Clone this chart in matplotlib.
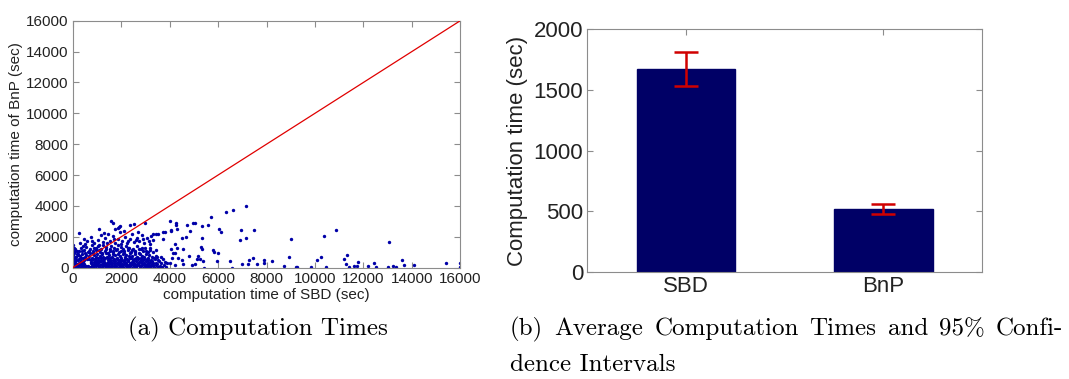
import numpy as np
import matplotlib
matplotlib.use("Agg")
import matplotlib.pyplot as plt

# ---- (a) scatter: computation time SBD vs BnP (sec) ----
# sparse points, outside the dense blob
sparse_pts = [
	(7140, 3997), (6630, 3717), (6340, 3590), (5695, 3265), (4980, 2915), (5050, 2915),
	(4700, 2765), (4015, 3025), (4250, 2875), (4250, 2745), (5585, 2765), (5350, 2720),
	(6025, 2527), (6108, 2293), (6946, 2442), (7482, 2442), (4841, 2397), (4318, 2507),
	(4057, 2440), (4057, 2397), (3810, 2330), (3740, 2290), (3535, 2165), (3326, 2165),
	(3425, 2165), (4676, 2010), (4524, 1945), (5323, 1945), (6905, 1795), (7140, 1903),
	(3740, 1860), (4235, 1535), (4292, 1255), (4045, 1190), (4152, 932), (4222, 932),
	(4565, 1190), (5282, 1320), (5323, 1190), (5778, 1127), (5845, 1036), (5984, 932),
	(4800, 758), (5184, 758), (5130, 564), (5254, 544), (5394, 434), (5943, 434),
	(6492, 434), (7288, 480), (7453, 648), (6975, 220), (7235, 220), (7620, 220),
	(4911, 175), (5047, 220), (5419, 0), (6562, 0), (4524, 499), (4565, 220),
	(4222, 175), (4015, 285), (3810, 389), (3714, 564), (3644, 713), (3467, 713),
	(3508, 499), (3302, 175), (4085, 648), (4358, 609),
	(9010, 1860), (10385, 2034), (10880, 2442), (13040, 1665), (7907, 518), (7907, 285),
	(8225, 453), (8720, 110), (8940, 693), (9203, 45), (9270, 45), (9835, 45),
	(10095, 480), (10260, 674), (10441, 65), (11209, 544), (11308, 803), (11267, 259),
	(11391, 45), (11622, 110), (11746, 91), (11787, 369), (12175, 91), (12448, 324),
	(12517, 65), (13025, 45), (13206, 91), (13343, 65), (13590, 499), (13660, 175),
	(14098, 175), (15394, 285), (16000, 285), (16000, 45),
	(272, 2228), (1580, 3025), (1663, 2876), (1911, 2656), (1965, 2721), (1870, 2591),
	(2365, 2766), (2517, 2831), (2971, 2915), (1085, 2488), (1733, 2488),
]

# dense blob near the origin
blob_pts = [
	(30, 40), (80, 150), (120, 20), (160, 260), (210, 90), (250, 330), (300, 10), (340, 180),
	(390, 60), (420, 390), (470, 240), (520, 30), (560, 120), (700, 50),
	(740, 290), (790, 140), (830, 10), (880, 380), (920, 220), (970, 80), (1010, 310), (1060, 160),
	(1100, 30), (1150, 420), (1190, 250), (1240, 100), (1280, 350), (1330, 190), (1370, 20),
	(1420, 280), (1460, 130), (1510, 400), (1550, 60), (1600, 230), (1640, 330), (1690, 90),
	(1730, 170), (1780, 10), (1820, 300), (1870, 210), (1910, 70), (1960, 380), (2000, 140),
	(2050, 260), (2090, 30), (2140, 340), (2180, 110), (2230, 200), (2270, 420), (2320, 50),
	(2360, 280), (2410, 160), (2450, 10), (2500, 360), (2540, 90), (2590, 240), (2630, 20),
	(2680, 310), (2720, 150), (2770, 60), (2810, 390), (2860, 200), (2900, 10), (2950, 280),
	(3000, 120), (3050, 40), (3100, 330), (3150, 180), (3210, 20), (3260, 250), (3320, 90),
	(3390, 10), (3450, 150), (3520, 40), (3600, 110), (3700, 20), (3850, 60),
	(10, 300), (15, 600), (25, 800), (50, 450), (70, 950), (100, 700), (140, 520), (180, 1100),
	(200, 850), (40, 1250), (90, 1050), (20, 1450),
	(60, 520), (130, 680), (190, 880), (240, 560), (290, 760), (350, 620), (400, 900), (450, 500),
	(500, 720), (560, 840), (610, 580), (660, 760), (710, 930), (760, 490), (810, 640), (860, 820),
	(910, 560), (960, 700), (1010, 900), (1060, 610), (1110, 780), (1160, 480), (1210, 870),
	(1260, 660), (1310, 540), (1360, 940), (1410, 720), (1460, 600), (1510, 840), (1560, 500),
	(1610, 680), (1660, 910), (1710, 560), (1760, 790), (1810, 650), (1860, 870), (1910, 520),
	(1960, 730), (2010, 600), (2060, 900), (2110, 470), (2160, 690), (2210, 820), (2260, 560),
	(2310, 740), (2360, 930), (2410, 610), (2460, 780), (2510, 500), (2560, 880), (2610, 650),
	(2660, 720), (2710, 540), (2760, 900), (2810, 630), (2860, 780), (2910, 480), (2960, 700),
	(3010, 870), (3060, 560), (3110, 650), (3170, 800), (3230, 520), (3290, 700), (3350, 600),
	(3420, 760),
	(250, 1050), (330, 1250), (420, 1400), (480, 1120), (560, 1320), (620, 1000), (700, 1180),
	(780, 1450), (840, 1060), (900, 1280), (980, 1150), (1050, 1380), (1120, 1000), (1180, 1230),
	(1250, 1470), (1320, 1100), (1390, 1320), (1450, 980), (1520, 1200), (1580, 1420), (1650, 1050),
	(1720, 1280), (1790, 1150), (1850, 1480), (1920, 1020), (1990, 1360), (2060, 1200), (2130, 1060),
	(2200, 1420), (2270, 1140), (2340, 1300), (2420, 1000), (2490, 1240), (2570, 1100), (2650, 1380),
	(2730, 980), (2820, 1200), (2900, 1060), (3000, 1280), (3100, 1000), (3200, 1150),
	(300, 1600), (450, 1850), (600, 1700), (750, 2000), (900, 1580), (1050, 1800), (1150, 2100),
	(1250, 1650), (1350, 1950), (1450, 2200), (1550, 1720), (1650, 2050), (1750, 1600), (1850, 1880),
	(1950, 2300), (2050, 1700), (2150, 2000), (2250, 1580), (2350, 1850), (2450, 2150), (2550, 1650),
	(2650, 1950), (2750, 1750), (2850, 2100), (2950, 1600), (3050, 1900), (3150, 1700), (3300, 1800),
]

# more of the blob, it is nearly solid below ~1000 sec
blob_pts2 = [
	(45, 210), (95, 380), (175, 60), (230, 480), (275, 150), (325, 420), (365, 280), (410, 140),
	(445, 620), (630, 80), (675, 560), (765, 400), (815, 260), (855, 590),
	(900, 110), (945, 460), (990, 230), (1035, 520), (1080, 340), (1125, 190), (1170, 640), (1215, 70),
	(1260, 450), (1305, 300), (1350, 600), (1395, 150), (1440, 480), (1485, 260), (1530, 650),
	(1575, 340), (1620, 110), (1665, 520), (1710, 280), (1755, 430), (1800, 120), (1845, 580),
	(1890, 340), (1935, 200), (1980, 500), (2025, 80), (2070, 410), (2115, 250), (2160, 560),
	(2205, 330), (2250, 130), (2295, 480), (2340, 190), (2385, 620), (2430, 390), (2475, 240),
	(2520, 560), (2565, 140), (2610, 430), (2655, 200), (2700, 640), (2745, 380), (2790, 100),
	(2835, 510), (2880, 290), (2925, 580), (2970, 180), (3015, 420), (3060, 260), (3105, 500),
	(3150, 90), (3195, 380), (3240, 170), (3285, 450), (3330, 280), (3380, 560), (3430, 330),
	(3480, 240), (3550, 420), (3630, 280), (3750, 180), (3900, 330),
	(110, 1200), (230, 900), (370, 1050), (520, 980), (680, 1100), (820, 950), (950, 1250),
	(1100, 1120), (1230, 980), (1380, 1180), (1530, 1050), (1680, 990), (1830, 1220), (1980, 1110),
	(2130, 960), (2280, 1250), (2430, 1130), (2580, 990), (2730, 1180), (2880, 1300), (3030, 1080),
	(3180, 1300), (3330, 1000), (3450, 1150),
	(500, 1550), (800, 1750), (1100, 1500), (1400, 1600), (1700, 1850), (2000, 1550), (2300, 1700),
	(2600, 1800), (2900, 1850), (3200, 1550), (1300, 2250), (2100, 2400), (2700, 2300), (3250, 2050),
]

all_pts = sparse_pts + blob_pts + blob_pts2
sbd_times = [p[0] for p in all_pts]
bnp_times = [p[1] for p in all_pts]

# ---- (b) averages with 95% CI ----
methods = ["SBD", "BnP"]
avg_time = [1669, 518]
ci_low = [1534, 477]
ci_high = [1808, 559]

grey = "#8c8c8c"
txt = "#222222"
sans = ["Liberation Sans", "DejaVu Sans"]

fig = plt.figure(figsize=(10.69, 3.79), dpi=100)

# left panel
ax1 = fig.add_axes([0.068, 0.2937, 0.3626, 0.6517])
ax1.scatter(sbd_times, bnp_times, s=6, color="#0000a8", linewidths=0, zorder=2)
ax1.plot([0, 16000], [0, 16000], color="#e00000", lw=0.9, zorder=3)
ax1.set_xlim(0, 16000)
ax1.set_ylim(0, 16000)
ax1.set_xticks(np.arange(0, 16001, 2000))
ax1.set_yticks(np.arange(0, 16001, 2000))
ax1.set_xlabel("computation time of SBD (sec)", fontsize=11, family=sans, color=txt, labelpad=1.5)
ax1.set_ylabel("computation time of BnP (sec)", fontsize=11, family=sans, color=txt, labelpad=2)

# right panel
ax2 = fig.add_axes([0.5494, 0.2815, 0.3692, 0.642])
xpos = np.arange(1, len(methods) + 1)
yerr = [np.array(avg_time) - np.array(ci_low), np.array(ci_high) - np.array(avg_time)]
ax2.bar(xpos, avg_time, width=0.5, color="#000066", edgecolor="#000066", zorder=2)
ax2.errorbar(xpos, avg_time, yerr=yerr, fmt="none", ecolor="#d00000", elinewidth=1.8,
	capsize=8.5, capthick=1.8, zorder=3)
ax2.set_xlim(0.5, 2.5)
ax2.set_ylim(0, 2000)
ax2.set_xticks(xpos)
ax2.set_xticklabels(methods)
ax2.set_yticks(np.arange(0, 2001, 500))
ax2.set_ylabel("Computation time (sec)", fontsize=16, family=sans, color=txt, labelpad=4)

for ax, fs in [(ax1, 11), (ax2, 16)]:
	for s in ax.spines.values():
		s.set_color(grey)
		s.set_linewidth(0.8)
	ax.tick_params(direction="in", top=True, right=True, color=grey, length=4,
		labelsize=fs, labelcolor=txt, pad=3)
	for lab in ax.get_xticklabels() + ax.get_yticklabels():
		lab.set_family(sans)

# captions in a Computer Modern look
cm = ["cmr10", "DejaVu Serif"]
cap_fs = 18
fig.text(258 / 1069, 1 - 329 / 379, "(a) Computation Times", fontsize=cap_fs, family=cm,
	ha="center", va="center")

# caption (b) is justified between x=510 and x=1063 px
words = ["(b)", "Average", "Computation", "Times", "and", "95%", "Confi-"]
x0, x1 = 510, 1063
objs = [fig.text(0, 1 - 329 / 379, w, fontsize=cap_fs, family=cm, ha="left", va="center") for w in words]
fig.canvas.draw()
r = fig.canvas.get_renderer()
widths = [o.get_window_extent(r).width for o in objs]
gap = (x1 - x0 - sum(widths)) / (len(words) - 1)
xc = x0
for o, w in zip(objs, widths):
	o.set_x(xc / 1069)
	xc += w + gap
fig.text(x0 / 1069, 1 - 365 / 379, "dence Intervals", fontsize=cap_fs, family=cm, ha="left", va="center")

fig.savefig("out.png", dpi=100)
